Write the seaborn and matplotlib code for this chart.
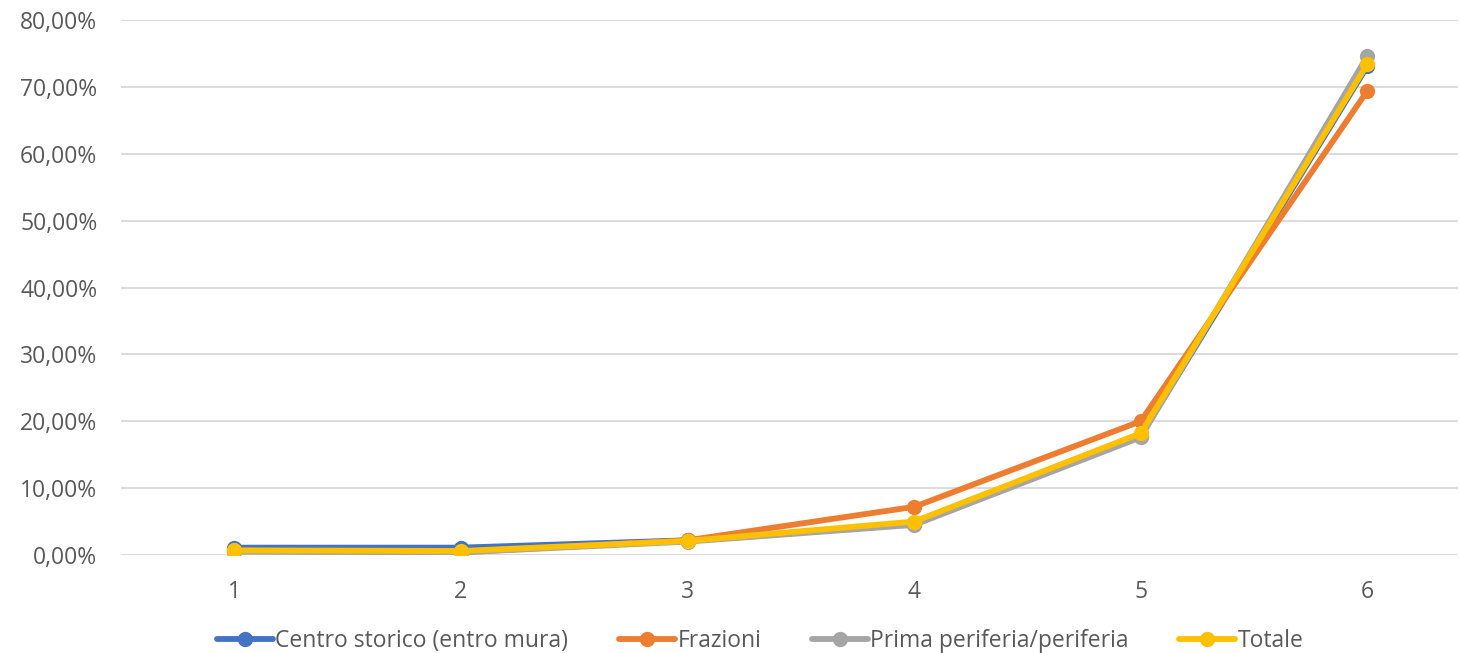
import pandas as pd
import matplotlib.pyplot as plt
import seaborn as sns
from matplotlib.ticker import FuncFormatter

# values (percent)
classi = [1, 2, 3, 4, 5, 6]
centro_storico = [1.1, 1.1, 2.2, 4.7, 17.8, 73.1]
frazioni = [0.6, 0.4, 2.2, 7.2, 20.0, 69.4]
periferia = [0.5, 0.4, 2.0, 4.5, 17.6, 74.6]
totale = [0.7, 0.6, 2.1, 5.0, 18.2, 73.4]

serie = ['Centro storico (entro mura)', 'Frazioni', 'Prima periferia/periferia', 'Totale']
colori = ['#4472C4', '#ED7D31', '#A5A5A5', '#FFC000']

df = pd.concat([
    pd.DataFrame({'classe': classi, 'valore': v, 'serie': s})
    for s, v in zip(serie, [centro_storico, frazioni, periferia, totale])
])

sns.set_style('white')
plt.rcParams['font.family'] = ['Open Sans', 'DejaVu Sans']

fig = plt.figure(figsize=(14.6, 6.53), dpi=100)
ax = fig.add_axes([121 / 1460, 98 / 653, 1337 / 1460, 535 / 653])

sns.lineplot(data=df, x='classe', y='valore', hue='serie', hue_order=serie,
             palette=colori, marker='o', markersize=11, markeredgewidth=0,
             linewidth=4.2, ax=ax, legend=True)

ax.set_xlim(0.5, 6.4)
ax.set_ylim(0, 80)
ax.set_yticks(range(0, 81, 10))
ax.set_xticks(classi)
ax.yaxis.set_major_formatter(FuncFormatter(lambda v, p: f'{v:.2f}%'.replace('.', ',')))
ax.grid(axis='y', color='#D9D9D9', linewidth=1.3)
ax.set_axisbelow(True)
for sp in ax.spines.values():
    sp.set_visible(False)
ax.tick_params(axis='both', length=0, labelsize=16.5, labelcolor='#595959')
ax.tick_params(axis='y', pad=17)
ax.tick_params(axis='x', pad=18)
ax.set_xlabel('')
ax.set_ylabel('')

handles, labels = ax.get_legend_handles_labels()
ax.legend(handles, labels, loc='lower center', bbox_to_anchor=(0.478, -0.221),
          ncol=4, frameon=False, fontsize=16.5, labelcolor='#595959',
          handlelength=2.45, handletextpad=0.1, columnspacing=2.2,
          bbox_transform=ax.transAxes)

fig.savefig('out.png', dpi=100)
